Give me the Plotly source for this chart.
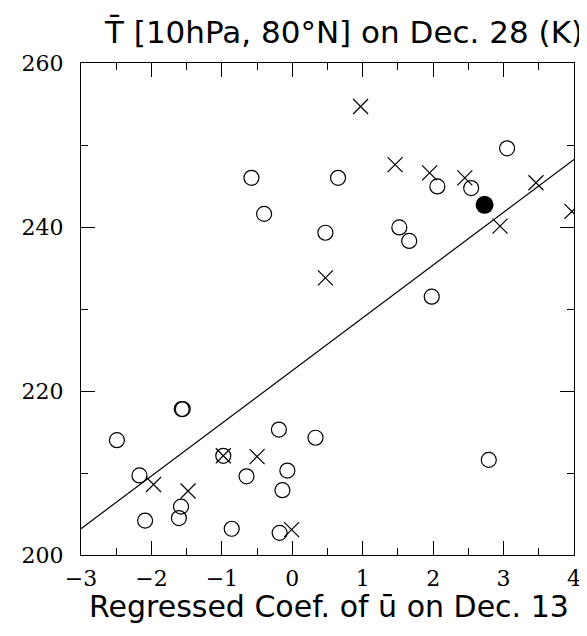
import numpy as np
import plotly.graph_objects as go

# open circles
circle_x = [-0.58, -0.40, 0.65, 3.05, 2.06, 2.54, 0.47, 1.52, 1.66, 1.98,
            -1.57, -1.555, -2.49, -0.19, 0.33, -0.98, -2.17, -0.65, -0.07, -0.14,
            -1.58, -1.61, -2.09, -0.86, -0.18, 2.79]
circle_y = [246.0, 241.6, 246.0, 249.6, 244.95, 244.75, 239.3, 239.95, 238.3, 231.5,
            217.8, 217.8, 214.0, 215.3, 214.3, 212.1, 209.7, 209.6, 210.3, 207.9,
            205.9, 204.5, 204.2, 203.2, 202.7, 211.6]

# crosses
cross_x = [0.97, 1.46, 1.95, 2.45, 3.46, 3.97, 2.95, 0.47, -0.98, -0.50, -1.97, -1.48, -0.01]
cross_y = [254.7, 247.6, 246.6, 246.0, 245.4, 241.9, 240.1, 233.8, 212.1, 212.0, 208.6, 207.8, 203.1]

# filled circle
filled_x = [2.73]
filled_y = [242.7]

# regression line
fit_intercept = 222.5
fit_slope = 6.43
x_range = [-3, 4]
y_range = [200, 260]

x_ticks = [-3, -2, -1, 0, 1, 2, 3, 4]
y_ticks = [200, 220, 240, 260]

line_x = np.array(x_range, dtype=float)
line_y = fit_intercept + fit_slope * line_x

fig = go.Figure()
fig.add_trace(go.Scatter(x=line_x, y=line_y, mode="lines",
                         line=dict(color="black", width=1.2), hoverinfo="skip"))
fig.add_trace(go.Scatter(x=circle_x, y=circle_y, mode="markers",
                         marker=dict(symbol="circle-open", size=15, color="black",
                                     line=dict(width=1.2, color="black"))))
fig.add_trace(go.Scatter(x=cross_x, y=cross_y, mode="markers",
                         marker=dict(symbol="x-thin-open", size=15, color="black",
                                     line=dict(width=1.2, color="black"))))
fig.add_trace(go.Scatter(x=filled_x, y=filled_y, mode="markers",
                         marker=dict(symbol="circle", size=18, color="black")))

tick_font = dict(family="DejaVu Serif", size=22, color="black")
axis_common = dict(showline=True, linecolor="black", linewidth=1.4, mirror="ticks",
                   ticks="inside", ticklen=14, tickwidth=1.2, tickcolor="black",
                   showgrid=False, zeroline=False, tickfont=tick_font)

fig.update_xaxes(range=x_range, tickvals=x_ticks, ticklabelstandoff=3,
                 minor=dict(dtick=0.5, ticks="inside", ticklen=7, tickwidth=1.2,
                            tickcolor="black", showgrid=False),
                 **axis_common)
fig.update_yaxes(range=y_range, tickvals=y_ticks, ticklabelstandoff=12,
                 minor=dict(dtick=10, ticks="inside", ticklen=7, tickwidth=1.2,
                            tickcolor="black", showgrid=False),
                 **axis_common)

fig.add_annotation(text="T\u0304 [10hPa, 80°N] on Dec. 28 (K)", xref="paper", yref="paper",
                   x=0.533, y=1.064, xanchor="center", yanchor="middle", showarrow=False,
                   font=dict(family="DejaVu Sans", size=31, color="black"))
fig.add_annotation(text="Regressed Coef. of u\u0304 on Dec. 13", xref="paper", yref="paper",
                   x=0.503, y=-0.105, xanchor="center", yanchor="middle", showarrow=False,
                   font=dict(family="DejaVu Sans", size=30, color="black"))

# page is offset by the 8px body margin, so margins are 8px smaller than the target frame
fig.update_layout(width=587, height=636, showlegend=False,
                  margin=dict(l=73, r=21, t=55, b=89),
                  paper_bgcolor="white", plot_bgcolor="white")

fig.write_html("out.html")
